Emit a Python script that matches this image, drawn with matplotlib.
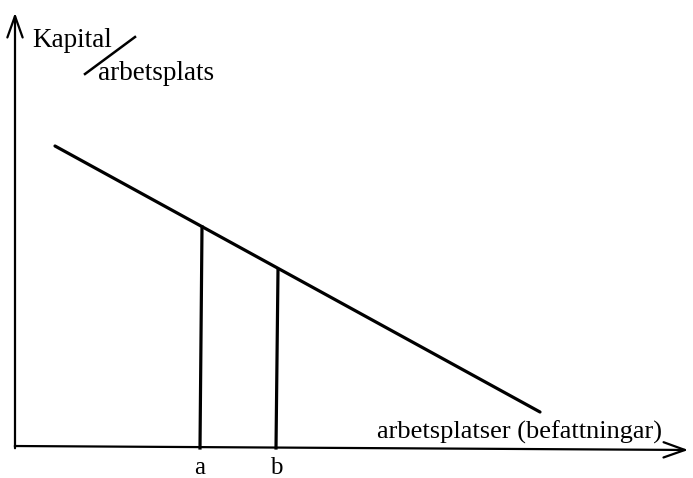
import matplotlib.pyplot as plt

# data coordinates: origin at axis crossing
line_x = [40, 525]
line_y = [302, 36]
cut_x = [185, 261]
cut_top = [221, 178]
cut_labels = ['a', 'b']

fig = plt.figure(figsize=(6.93, 4.78), dpi=100)
ax = fig.add_axes([0, 0, 1, 1])
ax.set_xlim(-15, 678)
ax.set_ylim(-30, 448)
ax.set_axis_off()

plt.rcParams['font.family'] = ['Liberation Serif', 'DejaVu Serif']

# axes with arrows
arrow = dict(arrowstyle='->,head_length=0.7,head_width=0.25', color='black',
             lw=1.6, mutation_scale=22)
ax.annotate('', xy=(0, 438), xytext=(0, -3), arrowprops=arrow)
ax.annotate('', xy=(676, -2), xytext=(-3, 2), arrowprops=arrow)

# main falling line
ax.plot(line_x, line_y, color='black', lw=2.3, solid_capstyle='round')

# vertical cuts
for x, top, lab in zip(cut_x, cut_top, cut_labels):
    ax.plot([x, x + 2], [0, top], color='black', lw=2.3)
    ax.text(x, -26, lab, ha='center', va='baseline', fontsize=18)

# labels
ax.text(17, 401, 'Kapital', ha='left', va='baseline', fontsize=19.5)
ax.plot([70, 120], [374, 411], color='black', lw=1.8)
ax.text(83, 368, 'arbetsplats', ha='left', va='baseline', fontsize=19.5)
ax.text(362, 9, 'arbetsplatser (befattningar)', ha='left', va='baseline', fontsize=19)

fig.savefig('out.png', dpi=100)
